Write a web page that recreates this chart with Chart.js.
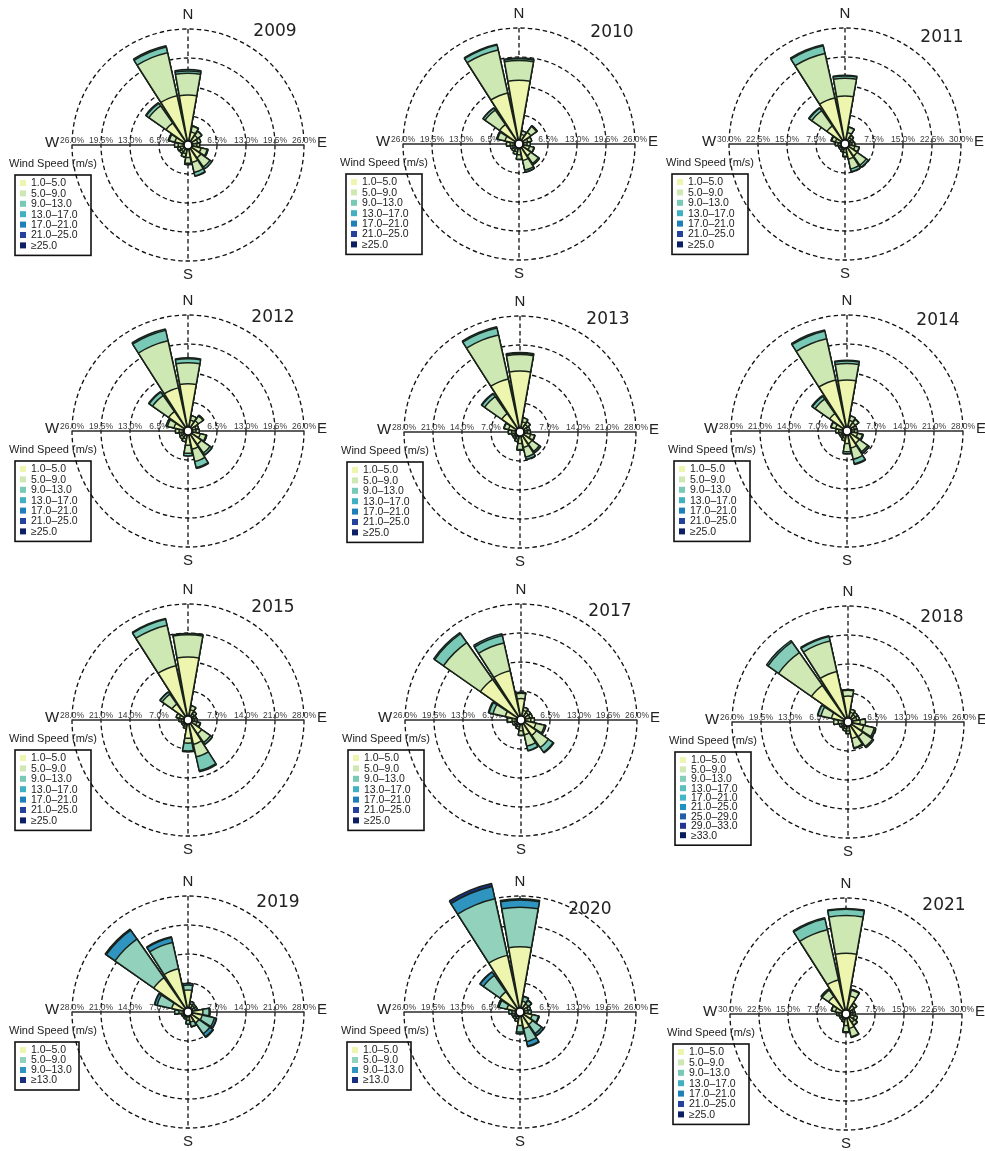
<!DOCTYPE html>
<html>
<head>
<meta charset="utf-8">
<title>Wind roses 2009–2021</title>
<script src="https://cdn.jsdelivr.net/npm/chart.js@4.4.1/dist/chart.umd.min.js"></script>
<style>
  html, body { margin: 0; padding: 0; background: #ffffff; }
  #page { position: relative; width: 985px; height: 1151px; overflow: hidden; background: #ffffff; }
  .panel { position: absolute; }
</style>
</head>
<body>
<div id="page"></div>
<script>
// ---- data: frequency (%) per direction, one array per wind-speed bin ----
const DIRECTIONS = ['N','NNE','NE','ENE','E','ESE','SE','SSE','S','SSW','SW','WSW','W','WNW','NW','NNW'];
const YEARS = ['2009','2010','2011','2012','2013','2014','2015','2017','2018','2019','2020','2021'];
const AXIS_MAX = [26, 26, 30, 26, 28, 28, 28, 26, 26, 28, 26, 30];

const BINS_7 = ['1.0\u20135.0','5.0\u20139.0','9.0\u201313.0','13.0\u201317.0','17.0\u201321.0','21.0\u201325.0','\u226525.0'];
const BINS_9 = ['1.0\u20135.0','5.0\u20139.0','9.0\u201313.0','13.0\u201317.0','17.0\u201321.0','21.0\u201325.0','25.0\u201329.0','29.0\u201333.0','\u226533.0'];
const BINS_4 = ['1.0\u20135.0','5.0\u20139.0','9.0\u201313.0','\u226513.0'];

//                N     NNE   NE    ENE   E     ESE   SE    SSE   S     SSW   SW    WSW   W     WNW   NW    NNW
const freq2009 = [
  [11.2, 3.0, 2.6, 2.2, 2.0, 3.0, 3.5, 4.0, 2.8, 2.0, 1.8, 1.8, 2.2, 3.0, 6.0, 11.3],
  [ 4.9, 1.3, 1.1, 0.7, 0.6, 1.4, 2.5, 2.3, 1.3, 0.8, 0.5, 0.6, 0.8, 1.3, 4.7,  9.9],
  [ 0.5, 0.1, 0.1, 0.0, 0.0, 0.2, 0.5, 0.8, 0.3, 0.0, 0.0, 0.0, 0.0, 0.2, 0.7,  1.3],
  [ 0.3, 0.0, 0.0, 0.0, 0.0, 0.0, 0.0, 0.1, 0.0, 0.0, 0.0, 0.0, 0.0, 0.0, 0.2,  0.3]
];
const freq2010 = [
  [14.3, 2.2, 3.2, 2.0, 1.8, 2.4, 3.2, 3.8, 2.4, 1.8, 1.5, 1.5, 2.0, 3.2, 5.3, 11.7],
  [ 4.4, 0.8, 1.6, 0.9, 0.7, 1.0, 2.1, 2.2, 1.0, 0.6, 0.5, 0.5, 0.8, 1.7, 4.0,  9.9],
  [ 0.4, 0.0, 0.2, 0.0, 0.0, 0.1, 0.3, 0.4, 0.1, 0.0, 0.0, 0.0, 0.0, 0.2, 0.5,  1.1],
  [ 0.2, 0.0, 0.0, 0.0, 0.0, 0.0, 0.0, 0.1, 0.0, 0.0, 0.0, 0.0, 0.0, 0.0, 0.1,  0.2]
];
const freq2011 = [
  [12.4, 3.0, 2.0, 1.6, 1.8, 2.6, 3.8, 4.0, 2.2, 1.6, 1.4, 1.4, 1.8, 2.5, 5.7, 12.2],
  [ 4.6, 1.4, 0.7, 0.6, 0.7, 1.1, 2.9, 2.6, 1.0, 0.5, 0.4, 0.4, 0.7, 1.0, 4.8, 11.8],
  [ 0.6, 0.1, 0.0, 0.0, 0.0, 0.1, 0.6, 0.7, 0.1, 0.0, 0.0, 0.0, 0.0, 0.2, 0.8,  2.0],
  [ 0.2, 0.0, 0.0, 0.0, 0.0, 0.0, 0.1, 0.1, 0.0, 0.0, 0.0, 0.0, 0.0, 0.0, 0.2,  0.3]
];
const freq2012 = [
  [10.6, 2.5, 2.8, 1.8, 1.8, 2.8, 3.6, 4.2, 3.2, 1.8, 1.6, 1.5, 2.0, 3.2, 5.3,  9.9],
  [ 4.7, 1.0, 1.3, 0.6, 0.7, 1.3, 2.4, 2.8, 1.8, 0.7, 0.6, 0.5, 0.8, 1.5, 4.4, 10.8],
  [ 0.9, 0.0, 0.2, 0.0, 0.0, 0.2, 0.5, 1.4, 0.6, 0.0, 0.0, 0.0, 0.0, 0.3, 0.9,  2.4],
  [ 0.2, 0.0, 0.0, 0.0, 0.0, 0.0, 0.1, 0.2, 0.0, 0.0, 0.0, 0.0, 0.0, 0.0, 0.2,  0.3]
];
const freq2013 = [
  [14.7, 2.5, 2.2, 1.8, 1.8, 2.6, 3.5, 3.8, 2.8, 1.8, 1.5, 1.5, 2.0, 2.8, 5.4, 13.1],
  [ 4.0, 1.0, 0.8, 0.6, 0.7, 1.0, 2.2, 2.4, 1.4, 0.6, 0.5, 0.5, 0.8, 1.1, 5.0, 10.9],
  [ 0.3, 0.0, 0.0, 0.0, 0.0, 0.1, 0.4, 0.6, 0.2, 0.0, 0.0, 0.0, 0.0, 0.1, 0.8,  1.7],
  [ 0.2, 0.0, 0.0, 0.0, 0.0, 0.0, 0.0, 0.1, 0.0, 0.0, 0.0, 0.0, 0.0, 0.0, 0.2,  0.3]
];
const freq2014 = [
  [12.3, 2.6, 2.4, 1.8, 1.8, 2.6, 3.6, 4.2, 3.0, 1.8, 1.5, 1.5, 2.0, 2.8, 5.1, 12.6],
  [ 4.0, 1.1, 1.0, 0.6, 0.7, 1.2, 2.5, 2.8, 2.0, 0.6, 0.5, 0.5, 0.7, 1.1, 4.3, 10.2],
  [ 0.6, 0.0, 0.1, 0.0, 0.0, 0.2, 0.4, 1.1, 0.5, 0.0, 0.0, 0.0, 0.0, 0.1, 0.8,  1.9],
  [ 0.2, 0.0, 0.0, 0.0, 0.0, 0.0, 0.1, 0.2, 0.0, 0.0, 0.0, 0.0, 0.0, 0.0, 0.2,  0.3]
];
const freq2015 = [
  [15.2, 2.5, 1.8, 1.5, 1.6, 2.2, 4.0, 6.0, 4.4, 1.6, 1.3, 1.3, 1.6, 2.1, 4.7, 13.4],
  [ 5.4, 1.0, 0.7, 0.5, 0.6, 0.8, 2.6, 3.1, 1.2, 0.5, 0.4, 0.4, 0.6, 0.8, 2.9, 10.0],
  [ 0.2, 0.0, 0.0, 0.0, 0.0, 0.1, 0.5, 3.4, 1.9, 0.0, 0.0, 0.0, 0.0, 0.0, 0.6,  1.5],
  [ 0.1, 0.0, 0.0, 0.0, 0.0, 0.0, 0.1, 0.3, 0.2, 0.0, 0.0, 0.0, 0.0, 0.0, 0.1,  0.2]
];
const freq2017 = [
  [ 4.8, 2.2, 2.0, 2.0, 2.2, 3.4, 4.2, 3.4, 2.4, 1.6, 1.4, 1.5, 2.0, 3.6, 11.1, 11.3],
  [ 1.2, 0.7, 0.6, 0.6, 0.8, 2.0, 3.3, 2.6, 1.0, 0.5, 0.4, 0.5, 1.0, 2.8, 10.1,  6.4],
  [ 0.2, 0.0, 0.0, 0.0, 0.0, 0.3, 1.3, 1.0, 0.1, 0.0, 0.0, 0.0, 0.1, 0.9,  2.4,  1.7],
  [ 0.0, 0.0, 0.0, 0.0, 0.0, 0.0, 0.2, 0.1, 0.0, 0.0, 0.0, 0.0, 0.0, 0.2,  0.3,  0.4]
];
const freq2018 = [
  [ 5.8, 2.2, 2.0, 2.0, 2.7, 3.6, 4.0, 3.8, 2.0, 1.6, 1.4, 1.5, 2.2, 3.8, 10.0, 11.6],
  [ 1.3, 0.7, 0.6, 0.6, 1.2, 2.4, 2.7, 2.1, 0.6, 0.5, 0.4, 0.5, 1.0, 2.4,  9.0,  7.0],
  [ 0.2, 0.0, 0.0, 0.0, 0.0, 0.3, 0.3, 0.2, 0.0, 0.0, 0.0, 0.0, 0.0, 0.7,  2.9,  1.0],
  [ 0.0, 0.0, 0.0, 0.0, 0.0, 0.1, 0.0, 0.0, 0.0, 0.0, 0.0, 0.0, 0.0, 0.1,  0.4,  0.2]
];
const freq2019 = [
  [ 5.3, 2.0, 1.8, 1.8, 3.6, 3.5, 3.2, 2.5, 2.0, 1.4, 1.2, 1.3, 2.2, 4.0, 10.1, 10.7],
  [ 1.2, 0.6, 0.5, 0.5, 1.5, 3.0, 3.2, 1.1, 0.9, 0.4, 0.4, 0.4, 1.0, 3.6, 11.4,  6.5],
  [ 0.4, 0.0, 0.0, 0.0, 0.2, 0.5, 0.9, 0.1, 0.0, 0.0, 0.0, 0.0, 0.0, 0.6,  2.6,  1.2],
  [ 0.0, 0.0, 0.0, 0.0, 0.0, 0.1, 0.2, 0.0, 0.0, 0.0, 0.0, 0.0, 0.0, 0.1,  0.3,  0.2]
];
const freq2020 = [
  [14.6, 2.5, 2.2, 1.8, 1.8, 2.8, 3.4, 3.8, 3.0, 1.6, 1.4, 1.4, 1.8, 3.0, 5.5, 13.0],
  [ 8.9, 1.0, 0.9, 0.6, 0.7, 1.4, 2.5, 3.0, 1.5, 0.6, 0.5, 0.5, 0.7, 1.8, 4.5, 13.0],
  [ 1.6, 0.1, 0.1, 0.0, 0.0, 0.2, 0.5, 1.0, 0.4, 0.0, 0.0, 0.0, 0.0, 0.3, 0.9,  2.8],
  [ 0.3, 0.0, 0.0, 0.0, 0.0, 0.0, 0.1, 0.2, 0.0, 0.0, 0.0, 0.0, 0.0, 0.0, 0.1,  0.7]
];
const freq2021 = [
  [15.7, 4.8, 2.6, 1.8, 1.8, 2.2, 2.6, 3.8, 3.0, 1.6, 1.4, 1.4, 1.8, 2.8, 5.5,  9.0],
  [ 9.8, 1.5, 0.8, 0.5, 0.6, 0.8, 0.9, 2.2, 1.6, 0.5, 0.4, 0.4, 0.6, 1.0, 2.0, 13.3],
  [ 1.6, 0.2, 0.0, 0.0, 0.0, 0.0, 0.1, 0.2, 0.2, 0.0, 0.0, 0.0, 0.0, 0.1, 0.3,  2.9],
  [ 0.2, 0.0, 0.0, 0.0, 0.0, 0.0, 0.0, 0.0, 0.0, 0.0, 0.0, 0.0, 0.0, 0.0, 0.1,  0.3]
];

const FREQS = [freq2009, freq2010, freq2011, freq2012, freq2013, freq2014,
               freq2015, freq2017, freq2018, freq2019, freq2020, freq2021];
const BIN_LABELS = [BINS_7, BINS_7, BINS_7, BINS_7, BINS_7, BINS_7,
                    BINS_7, BINS_7, BINS_9, BINS_4, BINS_4, BINS_7];

// ---- styling ----
const PALETTES = {
  4: ['#eef5ae', '#92d2bd', '#2f94bf', '#1a2e80'],
  7: ['#eef5ae', '#cde8b3', '#79c9b7', '#41b0c0', '#1f80b8', '#24429b', '#0d1f63'],
  9: ['#eef5ae', '#d0e9b4', '#86cdb9', '#5cbfbf', '#41b6c4', '#1d91c0', '#225ea8', '#253494', '#081d58']
};
const EDGE = '#18221a';
const WEDGE_DEG = 20;     // angular width of a direction sector
const GAP_DEG = 2.5;      // white gap between neighbouring sectors

// panel placement: rose centre (cx, cy) and year caption centre (tx, ty), page pixels
const LAYOUT = [
  { cx: 188, cy: 145,  tx: 275, ty: 32 },
  { cx: 519, cy: 144,  tx: 612, ty: 33 },
  { cx: 845, cy: 144,  tx: 942, ty: 38 },
  { cx: 188, cy: 431,  tx: 273, ty: 318 },
  { cx: 520, cy: 432,  tx: 608, ty: 320 },
  { cx: 847, cy: 431,  tx: 938, ty: 321 },
  { cx: 188, cy: 720,  tx: 273, ty: 608 },
  { cx: 521, cy: 720,  tx: 610, ty: 612 },
  { cx: 848, cy: 722,  tx: 942, ty: 618 },
  { cx: 188, cy: 1012, tx: 278, ty: 903 },
  { cx: 520, cy: 1012, tx: 590, ty: 910 },
  { cx: 846, cy: 1014, tx: 944, ty: 906 }
];
const CANVAS_W = 330, CANVAS_H = 290, ORIGIN_X = 188, ORIGIN_Y = 145, RADIUS = 116;

Chart.defaults.font.family = '"Liberation Sans", Arial, sans-serif';

// compass lines, ring labels, hub, compass letters, caption and legend
const roseDecor = {
  id: 'roseDecor',
  beforeDatasetsDraw(chart) {
    const s = chart.scales.r, ctx = chart.ctx;
    const R = s.drawingArea, x0 = s.xCenter, y0 = s.yCenter;
    ctx.save();
    ctx.strokeStyle = '#111';
    ctx.lineWidth = 1.3;
    ctx.setLineDash([4.5, 3]);
    ctx.beginPath(); ctx.moveTo(x0, y0 - R); ctx.lineTo(x0, y0 + R); ctx.stroke();
    ctx.setLineDash([]);
    ctx.strokeStyle = '#2a2a2a';
    ctx.lineWidth = 1.7;
    ctx.beginPath(); ctx.moveTo(x0 - R, y0); ctx.lineTo(x0 + R, y0); ctx.stroke();
    ctx.font = '8.5px "Liberation Sans", Arial, sans-serif';
    ctx.fillStyle = '#3a3a3a';
    ctx.textAlign = 'center';
    ctx.textBaseline = 'alphabetic';
    s.ticks.forEach(t => {
      if (t.value <= 0) return;
      const d = s.getDistanceFromCenterForValue(t.value);
      const txt = (Math.round(t.value * 10) / 10).toFixed(1) + '%';
      ctx.fillText(txt, x0 - d, y0 - 2);
      ctx.fillText(txt, x0 + d, y0 - 2);
    });
    ctx.restore();
  },
  afterDatasetsDraw(chart) {
    const s = chart.scales.r, ctx = chart.ctx;
    ctx.save();
    ctx.beginPath();
    ctx.arc(s.xCenter, s.yCenter, 4, 0, Math.PI * 2);
    ctx.fillStyle = '#fff';
    ctx.fill();
    ctx.lineWidth = 1.7;
    ctx.strokeStyle = '#111';
    ctx.stroke();
    ctx.restore();
  },
  afterDraw(chart, args, opts) {
    const s = chart.scales.r, ctx = chart.ctx;
    const x0 = s.xCenter, y0 = s.yCenter;
    ctx.save();
    ctx.fillStyle = '#222';
    ctx.textAlign = 'center';
    ctx.textBaseline = 'middle';
    ctx.font = '15px "Liberation Sans", Arial, sans-serif';
    ctx.fillText('N', x0, y0 - 130);
    ctx.fillText('S', x0, y0 + 130);
    ctx.fillText('W', x0 - 136, y0 - 2);
    ctx.fillText('E', x0 + 134, y0 - 2);

    ctx.font = '17px "DejaVu Sans", sans-serif';
    ctx.fillText(opts.caption, opts.captionX, opts.captionY);

    // legend
    const bins = opts.bins, colors = opts.colors;
    const step = bins.length > 7 ? 9.4 : (bins.length < 7 ? 10 : 10.4);
    const boxX = x0 - 173, boxY = y0 + 30;
    const boxW = bins.length < 7 ? 64 : 76;
    const boxH = (bins.length - 1) * step + 18;
    ctx.textAlign = 'left';
    ctx.font = '11px "Liberation Sans", Arial, sans-serif';
    ctx.fillText('Wind Speed (m/s)', x0 - 179, y0 + 19);
    ctx.lineWidth = 1.6;
    ctx.strokeStyle = '#111';
    ctx.strokeRect(boxX, boxY, boxW, boxH);
    ctx.font = '10.5px "Liberation Sans", Arial, sans-serif';
    bins.forEach((lab, k) => {
      const yy = boxY + 8 + k * step;
      ctx.fillStyle = colors[k];
      ctx.fillRect(boxX + 5, yy - 3, 6, 6);
      ctx.fillStyle = '#222';
      ctx.fillText(lab, boxX + 16, yy + 0.5);
    });
    ctx.restore();
  }
};

const page = document.getElementById('page');

YEARS.forEach((year, i) => {
  const pos = LAYOUT[i];
  const bins = BIN_LABELS[i];
  const colors = PALETTES[bins.length];
  const freq = FREQS[i];

  const canvas = document.createElement('canvas');
  canvas.className = 'panel';
  canvas.width = CANVAS_W;
  canvas.height = CANVAS_H;
  canvas.style.width = CANVAS_W + 'px';
  canvas.style.height = CANVAS_H + 'px';
  const left = pos.cx - ORIGIN_X, top = pos.cy - ORIGIN_Y;
  canvas.style.left = left + 'px';
  canvas.style.top = top + 'px';
  page.appendChild(canvas);

  // sectors alternate with empty gap slots; each speed bin is stacked on the
  // ones below it, so its outer radius is the running total
  const labels = [];
  DIRECTIONS.forEach(d => labels.push(d, ''));
  const datasets = [];
  let running = DIRECTIONS.map(() => 0);
  freq.forEach((band, k) => {
    running = running.map((v, d) => v + band[d]);
    const data = [];
    running.forEach(v => data.push(+v.toFixed(2), 0));
    datasets.push({
      label: bins[k],
      data: data,
      backgroundColor: ctx => (ctx.dataIndex % 2 ? 'rgba(0,0,0,0)' : colors[k]),
      borderColor: EDGE,
      borderWidth: ctx => (ctx.dataIndex % 2 ? 0 : 1.5),
      angle: ctx => (ctx.dataIndex % 2 ? GAP_DEG : WEDGE_DEG),
      clip: false
    });
  });

  new Chart(canvas, {
    type: 'polarArea',
    data: { labels: labels, datasets: datasets },
    options: {
      responsive: false,
      animation: false,
      events: [],
      layout: {
        padding: {
          left: ORIGIN_X - RADIUS,
          right: CANVAS_W - ORIGIN_X - RADIUS,
          top: ORIGIN_Y - RADIUS,
          bottom: CANVAS_H - ORIGIN_Y - RADIUS
        }
      },
      scales: {
        r: {
          min: 0,
          max: AXIS_MAX[i],
          startAngle: -WEDGE_DEG / 2,
          ticks: { display: false, stepSize: AXIS_MAX[i] / 4 },
          grid: { circular: true, color: '#111', lineWidth: 1.3 },
          border: { dash: [4.5, 3] },
          angleLines: { display: false },
          pointLabels: { display: false }
        }
      },
      plugins: {
        legend: { display: false },
        tooltip: { enabled: false },
        roseDecor: {
          caption: year,
          captionX: pos.tx - left,
          captionY: pos.ty - top,
          bins: bins,
          colors: colors
        }
      }
    },
    plugins: [roseDecor]
  });
});
</script>
</body>
</html>
